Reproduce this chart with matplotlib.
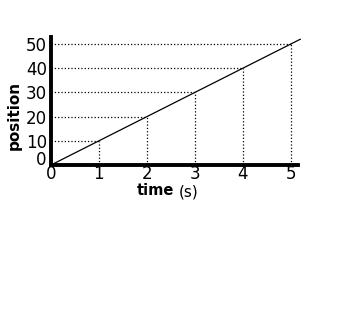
import matplotlib

matplotlib.use("Agg")
import matplotlib.pyplot as plt
import numpy as np

# data
times = np.array([0, 1, 2, 3, 4, 5])
positions = np.array([0, 10, 20, 30, 40, 50])
x_ticks = [0, 1, 2, 3, 4, 5]
y_ticks = [0, 10, 20, 30, 40, 50]

fig = plt.figure(figsize=(3.4, 3.09), dpi=100)
ax = fig.add_axes([0.15, 0.466, 0.726, 0.414])

x_max, y_max = 5.15, 52.9

# dotted guides from each point back to the axes
for t, p in zip(times[1:], positions[1:]):
    ax.plot([0, t], [p, p], color="black", linestyle=":", linewidth=0.9)
    ax.plot([t, t], [0, p], color="black", linestyle=":", linewidth=0.9)

# straight line through the points, running a little past the last one
slope = np.polyfit(times, positions, 1)[0]
x_line = np.array([0, 5.2])
ax.plot(x_line, slope * x_line, color="black", linewidth=0.9, clip_on=False)

ax.set_xlim(0, x_max)
ax.set_ylim(0, y_max)
ax.set_xticks(x_ticks)
ax.set_yticks(y_ticks)
ax.tick_params(length=0, labelsize=12)
ax.tick_params(axis="x", pad=0)
ax.tick_params(axis="y", pad=3)
ax.get_yticklabels()[0].set_va("baseline")  # the y "0" sits on the axis
for side in ("top", "right"):
    ax.spines[side].set_visible(False)
for side in ("left", "bottom"):
    ax.spines[side].set_linewidth(2.8)

fig.text(0.041, 0.628, "position", fontsize=11, fontweight="bold",
         rotation=90, ha="center", va="center")
fig.text(0.402, 0.370, "time", fontsize=10.5, fontweight="bold",
         ha="left", va="baseline")
fig.text(0.525, 0.363, "(s)", fontsize=11, ha="left", va="baseline")

plt.savefig("out.png", dpi=100)
plt.close(fig)
